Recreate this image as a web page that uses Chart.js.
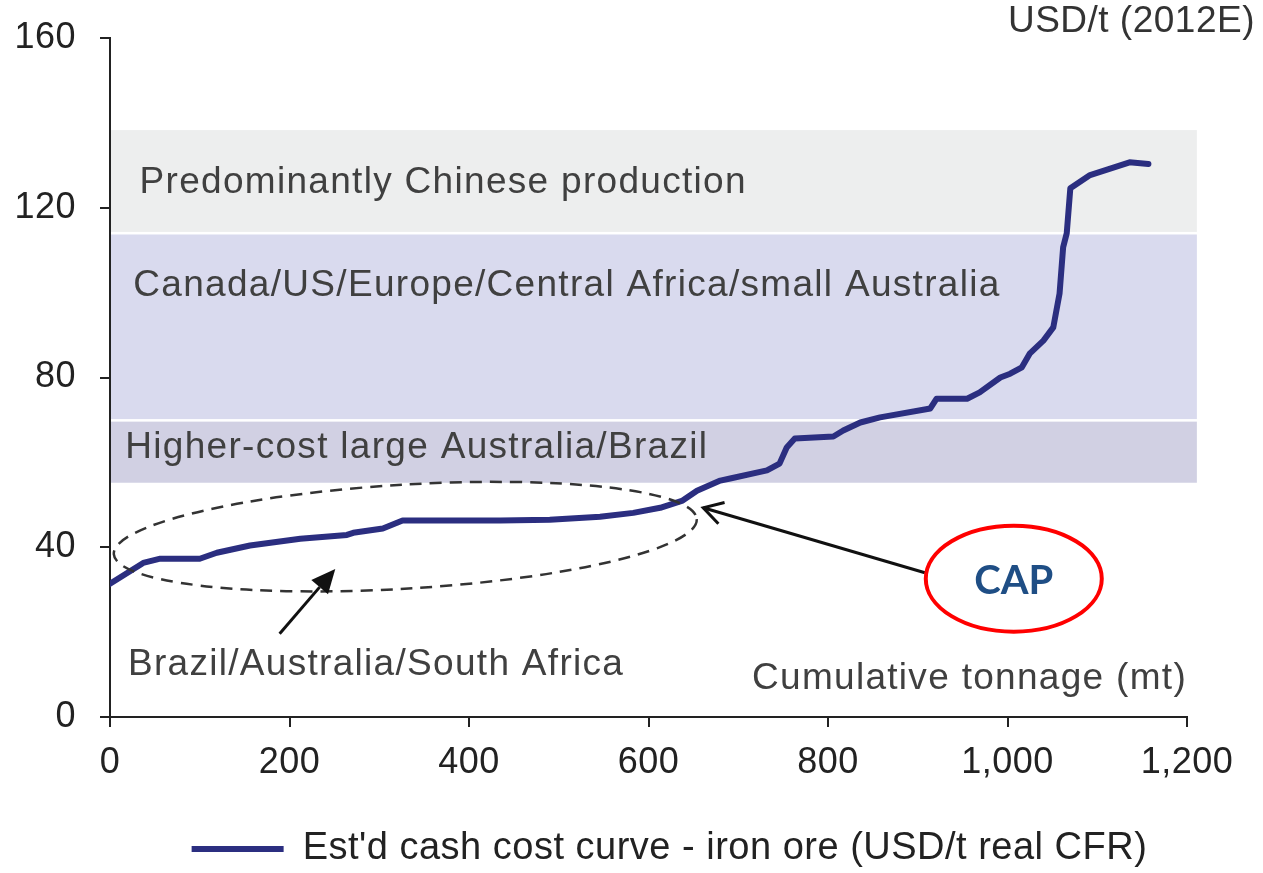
<!DOCTYPE html>
<html>
<head>
<meta charset="utf-8">
<script src="https://cdn.jsdelivr.net/npm/chart.js@4.4.1/dist/chart.umd.min.js"></script>
<style>
  html, body { margin: 0; padding: 0; background: #fff; }
  #wrap { width: 1263px; height: 873px; }
</style>
</head>
<body>
<div id="wrap"><canvas id="chart"></canvas></div>
<script>
// cumulative tonnage (mt) and cash cost (USD/t)
const costX = [0, 37, 56, 100, 119, 156, 212, 264, 271, 304, 326, 345, 379, 435, 490, 546, 583, 613, 638, 654,
               680, 691, 732, 746, 754, 763, 806, 817, 836, 858, 914, 921, 955, 969, 992, 1003, 1016, 1025, 1040,
               1051, 1058, 1062, 1066, 1070, 1092, 1136, 1157]
const costY = [31.4, 36.3, 37.3, 37.3, 38.7, 40.4, 42.0, 42.9, 43.4, 44.4, 46.3, 46.3, 46.3, 46.3, 46.5, 47.2, 48.1, 49.3, 51.0, 53.3,
               55.7, 56.2, 58.1, 59.7, 63.5, 65.6, 66.1, 67.5, 69.4, 70.6, 72.7, 75.0, 75.0, 76.5, 80.0, 80.9, 82.4, 85.7, 88.7,
               91.8, 99.8, 110.7, 114.0, 124.6, 127.7, 130.7, 130.3]

// cost bands behind the curve
const bandNames = ['Predominantly Chinese production', 'Canada/US/Europe/Central Africa/small Australia', 'Higher-cost large Australia/Brazil']
const bandTop = [138.3, 113.7, 69.6]
const bandBottom = [114.3, 70.2, 55.2]
const bandColors = ['#EDEEEE', '#D9DAEE', '#D1D0E3']

const xMax = 1200, xStep = 200
const yMax = 160, yStep = 40

const FONT = '"Liberation Sans", Arial, sans-serif'
const LINE = '#2B2E80'

function arrow(ctx, x0, y0, x1, y1, filled){
    const a = Math.atan2(y1 - y0, x1 - x0)
    const len = filled ? 24 : 19, half = 11
    const bx = x1 - len * Math.cos(a), by = y1 - len * Math.sin(a)
    const px = -Math.sin(a) * half, py = Math.cos(a) * half
    ctx.beginPath()
    ctx.moveTo(x0, y0)
    ctx.lineTo(filled ? bx : x1, filled ? by : y1)
    ctx.stroke()
    ctx.beginPath()
    ctx.moveTo(bx + px, by + py)
    ctx.lineTo(x1, y1)
    ctx.lineTo(bx - px, by - py)
    if (filled) { ctx.closePath(); ctx.fill() } else ctx.stroke()
}

const backdrop = {
    id: 'backdrop',
    beforeLayout(chart){ chart.ctx.letterSpacing = '0.5px' },
    afterLayout(chart){
        // legend sits a little right of centre in the original
        chart.legend.left += 38
        chart.legend.right += 38
    },
    beforeDraw(chart){ chart.ctx.letterSpacing = '0.5px' },
    beforeDatasetsDraw(chart){
        const {ctx, scales: {x, y}} = chart
        ctx.save()
        const x0 = x.getPixelForValue(0) + 1, x1 = x.getPixelForValue(1211)
        bandTop.forEach((top, i) => {
            const y0 = y.getPixelForValue(top), y1 = y.getPixelForValue(bandBottom[i])
            ctx.fillStyle = bandColors[i]
            ctx.fillRect(x0, y0, x1 - x0, y1 - y0)
        })
        ctx.fillStyle = '#404040'
        ctx.font = '37px ' + FONT
        ctx.letterSpacing = '1.3px'
        ctx.textBaseline = 'middle'
        const spots = [[33, 125.8], [26, 101.5], [17, 63.5]]
        bandNames.forEach((t, i) => ctx.fillText(t, x.getPixelForValue(spots[i][0]), y.getPixelForValue(spots[i][1])))
        ctx.fillText('Brazil/Australia/South Africa', x.getPixelForValue(20), y.getPixelForValue(12.3))
        ctx.textAlign = 'right'
        ctx.fillText('Cumulative tonnage (mt)', x.getPixelForValue(1200), y.getPixelForValue(9))
        ctx.fillStyle = '#333'
        ctx.letterSpacing = '0.5px'
        ctx.fillText('USD/t (2012E)', chart.width - 8, 22)
        ctx.restore()
    },
    afterDatasetsDraw(chart){
        const {ctx, scales: {x, y}} = chart
        ctx.save()
        // dashed ellipse round the low-cost group
        ctx.strokeStyle = '#333'
        ctx.lineWidth = 2.5
        ctx.setLineDash([12, 8])
        ctx.beginPath()
        ctx.ellipse(x.getPixelForValue(329), y.getPixelForValue(42.5), 292, 52, -0.06, 0, Math.PI * 2)
        ctx.stroke()
        ctx.setLineDash([])
        // arrows
        ctx.strokeStyle = '#111'
        ctx.fillStyle = '#111'
        ctx.lineWidth = 3
        arrow(ctx, x.getPixelForValue(189), y.getPixelForValue(19.6), x.getPixelForValue(251), y.getPixelForValue(34.9), true)
        arrow(ctx, x.getPixelForValue(908), y.getPixelForValue(34.0), x.getPixelForValue(661), y.getPixelForValue(49.3), false)
        // CAP bubble
        const cx = x.getPixelForValue(1007), cy = y.getPixelForValue(32.6)
        ctx.fillStyle = '#fff'
        ctx.strokeStyle = '#FF0000'
        ctx.lineWidth = 4
        ctx.beginPath()
        ctx.ellipse(cx, cy, 88, 53, 0, 0, Math.PI * 2)
        ctx.fill()
        ctx.stroke()
        ctx.fillStyle = '#1F4E85'
        ctx.font = 'bold 40px Lato, "Open Sans", sans-serif'
        ctx.letterSpacing = '0px'
        ctx.textAlign = 'center'
        ctx.textBaseline = 'middle'
        ctx.fillText('CAP', cx, cy + 2)
        ctx.restore()
    }
}

new Chart(document.getElementById('chart'), {
    type: 'line',
    data: {
        datasets: [{
            label: "Est'd cash cost curve - iron ore (USD/t real CFR)",
            data: costX.map((v, i) => ({x: v, y: costY[i]})),
            borderColor: LINE,
            backgroundColor: LINE,
            borderWidth: 6,
            borderCapStyle: 'round',
            borderJoinStyle: 'round',
            pointRadius: 0,
            tension: 0
        }]
    },
    options: {
        responsive: true,
        maintainAspectRatio: false,
        animation: false,
        layout: { padding: { left: 0, right: 0, top: 38, bottom: -5 } },
        plugins: {
            tooltip: { enabled: false },
            legend: {
                position: 'bottom',
                labels: {
                    usePointStyle: true,
                    pointStyle: 'line',
                    pointStyleWidth: 92,
                    color: '#222',
                    padding: 10,
                    font: { family: FONT, size: 38 }
                }
            }
        },
        scales: {
            x: {
                type: 'linear',
                min: 0, max: xMax,
                afterFit: s => { s.height = 103 },
                ticks: { stepSize: xStep, color: '#222', padding: 14, font: { family: FONT, size: 36 } },
                grid: { drawOnChartArea: false, tickLength: 10, color: '#222', lineWidth: 2 },
                border: { color: '#222', width: 2 }
            },
            y: {
                min: 0, max: yMax,
                afterFit: s => { s.width = 110; s.paddingTop = 16 },
                ticks: { stepSize: yStep, color: '#222', padding: 24, font: { family: FONT, size: 36 } },
                grid: { drawOnChartArea: false, tickLength: 10, color: '#222', lineWidth: 2 },
                border: { color: '#222', width: 2 }
            },
            // empty right-hand strip so the plot ends at 1,200 like the original
            gap: {
                type: 'linear',
                position: 'right',
                afterFit: s => { s.width = 76; s.paddingTop = 0 },
                ticks: { display: false },
                grid: { display: false },
                border: { display: false }
            }
        }
    },
    plugins: [backdrop]
})
</script>
</body>
</html>
